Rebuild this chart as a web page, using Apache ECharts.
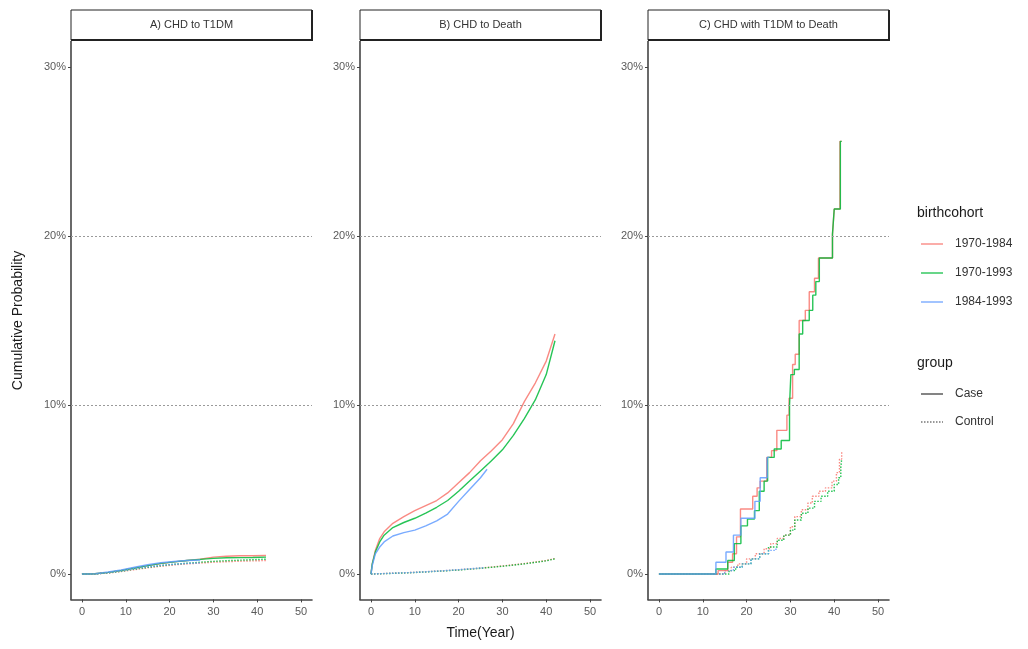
<!DOCTYPE html>
<html>
<head>
<meta charset="utf-8">
<script src="https://cdn.jsdelivr.net/npm/echarts@6/dist/echarts.min.js"></script>
<style>
html,body{margin:0;padding:0;background:#fff;}
#chart{width:1028px;height:649px;}
</style>
</head>
<body>
<div id="chart"></div>
<script>
// ---------- DATA ----------
var panelTitles = ['A) CHD to T1DM', 'B) CHD to Death', 'C) CHD with T1DM to Death'];
var cohorts = ['1970-1984', '1970-1993', '1984-1993'];
var groups = ['Case', 'Control'];
var xTicks = [0, 10, 20, 30, 40, 50];
var yTicks = [0, 10, 20, 30];

// Panel A: CHD to T1DM (time in years, cumulative probability in %)
var aTimeFull = [0, 3, 6, 9, 12, 15, 18, 21, 24, 27, 30, 33, 36, 39, 42];
var aTimeShort = [0, 3, 6, 9, 12, 15, 18, 21, 24, 27];
var aCase1970_1984 = [0, 0.02, 0.1, 0.22, 0.36, 0.5, 0.62, 0.72, 0.8, 0.88, 1.0, 1.05, 1.08, 1.08, 1.1];
var aCase1970_1993 = [0, 0.02, 0.1, 0.22, 0.36, 0.5, 0.63, 0.72, 0.8, 0.87, 0.93, 0.96, 0.97, 0.98, 1.0];
var aCase1984_1993 = [0, 0.02, 0.12, 0.25, 0.4, 0.55, 0.67, 0.74, 0.8, 0.83];
var aCtrl1970_1984 = [0, 0.01, 0.06, 0.15, 0.26, 0.37, 0.46, 0.54, 0.6, 0.65, 0.7, 0.73, 0.76, 0.78, 0.8];
var aCtrl1970_1993 = [0, 0.01, 0.07, 0.17, 0.29, 0.4, 0.5, 0.58, 0.64, 0.7, 0.75, 0.79, 0.82, 0.85, 0.88];
var aCtrl1984_1993 = [0, 0.01, 0.08, 0.19, 0.32, 0.43, 0.52, 0.58, 0.63, 0.66];

// Panel B: CHD to Death
var bTimeFull = [0, 0.3, 1, 2, 3, 5, 7.5, 10, 12.5, 15, 17.5, 20, 22.5, 25, 27.5, 30, 32.5, 35, 37.5, 40, 42];
var bTimeShort = [0, 0.3, 1, 2, 3, 5, 7.5, 10, 12.5, 15, 17.5, 20, 22.5, 25, 26.5];
var bCase1970_1984 = [0, 0.6, 1.4, 2.1, 2.5, 3.0, 3.4, 3.75, 4.05, 4.35, 4.8, 5.4, 6.0, 6.7, 7.3, 7.95, 8.9, 10.2, 11.3, 12.6, 14.2];
var bCase1970_1993 = [0, 0.6, 1.3, 1.9, 2.3, 2.75, 3.05, 3.3, 3.6, 3.95, 4.35, 4.9, 5.5, 6.1, 6.7, 7.35, 8.2, 9.2, 10.3, 11.8, 13.8];
var bCase1984_1993 = [0, 0.5, 1.2, 1.6, 1.9, 2.25, 2.45, 2.6, 2.85, 3.15, 3.55, 4.3, 5.0, 5.7, 6.2];
var bCtrlTimeFull = [0, 5, 10, 15, 20, 25, 30, 35, 40, 42];
var bCtrlTimeShort = [0, 5, 10, 15, 20, 26];
var bCtrl1970_1984 = [0, 0.05, 0.1, 0.17, 0.25, 0.35, 0.48, 0.62, 0.8, 0.92];
var bCtrl1970_1993 = [0, 0.04, 0.09, 0.16, 0.24, 0.34, 0.46, 0.6, 0.78, 0.9];
var bCtrl1984_1993 = [0, 0.05, 0.1, 0.17, 0.26, 0.38];

// Panel C: CHD with T1DM to Death (step curves: time, value after the step)
var cCase1970_1984T = [0, 13.5, 15.7, 16.8, 17.7, 18.6, 21.4, 22.4, 23.1, 24.6, 25.7, 26.9, 29.2, 29.7, 30.5, 31.1, 32.0, 33.4, 34.3, 35.5, 36.4, 39.6, 40.0, 41.3, 41.7];
var cCase1970_1984V = [0, 0.2, 0.7, 1.2, 2.2, 3.85, 4.6, 5.1, 5.5, 6.9, 7.3, 8.5, 9.4, 10.4, 12.4, 13.0, 15.0, 15.6, 16.7, 17.5, 18.7, 20.1, 21.6, 25.6, 25.6];
var cCase1970_1993T = [0, 13.0, 15.7, 17.2, 18.7, 20.2, 21.8, 22.9, 24.0, 24.8, 26.3, 27.9, 29.8, 30.1, 30.9, 32.0, 32.8, 34.3, 35.1, 35.8, 36.6, 39.6, 40.0, 41.4, 41.7];
var cCase1970_1993V = [0, 0.3, 0.8, 1.8, 2.85, 3.25, 3.75, 4.9, 5.5, 6.9, 7.4, 7.9, 10.0, 11.8, 12.1, 14.2, 15.0, 15.6, 16.5, 17.3, 18.7, 20.1, 21.6, 25.6, 25.6];
var cCase1984_1993T = [0, 13.0, 15.3, 17.0, 18.7, 21.9, 23.1, 24.7, 25.2];
var cCase1984_1993V = [0, 0.7, 1.3, 2.3, 3.3, 4.3, 5.7, 6.9, 6.9];
var cCtrl1970_1984T = [0, 15, 16.5, 18, 20, 22, 24, 25.5, 27, 28.5, 30, 31, 32.5, 34, 35, 36.5, 38, 39.5, 40.5, 41.2, 41.7];
var cCtrl1970_1984V = [0, 0.2, 0.4, 0.6, 0.9, 1.2, 1.5, 1.8, 2.1, 2.3, 2.8, 3.4, 3.8, 4.2, 4.6, 4.9, 5.1, 5.5, 6.0, 6.8, 7.2];
var cCtrl1970_1993T = [0, 16, 17.5, 19, 21, 23, 25, 27, 28.5, 30, 31, 32.5, 34, 35.5, 37, 38.5, 40, 41, 41.5, 41.7];
var cCtrl1970_1993V = [0, 0.2, 0.4, 0.6, 0.9, 1.2, 1.6, 2.0, 2.3, 2.6, 3.2, 3.6, 3.9, 4.3, 4.6, 4.9, 5.3, 5.7, 6.3, 6.8];
var cCtrl1984_1993T = [0, 15, 17, 19, 21, 23, 25, 26.7];
var cCtrl1984_1993V = [0, 0.2, 0.4, 0.6, 0.9, 1.2, 1.4, 1.6];

// ---------- BUILD ----------
var colors = {'1970-1984': '#F8766D', '1970-1993': '#00BA38', '1984-1993': '#619CFF'};
function zip(t, v) { return t.map(function (x, i) { return [x, v[i]]; }); }

var panels = [
  {left: 71, step: false, lines: [
    ['1970-1984', 'Case', zip(aTimeFull, aCase1970_1984)],
    ['1970-1993', 'Case', zip(aTimeFull, aCase1970_1993)],
    ['1984-1993', 'Case', zip(aTimeShort, aCase1984_1993)],
    ['1970-1984', 'Control', zip(aTimeFull, aCtrl1970_1984)],
    ['1970-1993', 'Control', zip(aTimeFull, aCtrl1970_1993)],
    ['1984-1993', 'Control', zip(aTimeShort, aCtrl1984_1993)]
  ]},
  {left: 360, step: false, lines: [
    ['1970-1984', 'Control', zip(bCtrlTimeFull, bCtrl1970_1984)],
    ['1970-1993', 'Control', zip(bCtrlTimeFull, bCtrl1970_1993)],
    ['1984-1993', 'Control', zip(bCtrlTimeShort, bCtrl1984_1993)],
    ['1970-1984', 'Case', zip(bTimeFull, bCase1970_1984)],
    ['1970-1993', 'Case', zip(bTimeFull, bCase1970_1993)],
    ['1984-1993', 'Case', zip(bTimeShort, bCase1984_1993)]
  ]},
  {left: 648, step: true, lines: [
    ['1970-1984', 'Control', zip(cCtrl1970_1984T, cCtrl1970_1984V)],
    ['1970-1993', 'Control', zip(cCtrl1970_1993T, cCtrl1970_1993V)],
    ['1984-1993', 'Control', zip(cCtrl1984_1993T, cCtrl1984_1993V)],
    ['1970-1984', 'Case', zip(cCase1970_1984T, cCase1970_1984V)],
    ['1970-1993', 'Case', zip(cCase1970_1993T, cCase1970_1993V)],
    ['1984-1993', 'Case', zip(cCase1984_1993T, cCase1984_1993V)]
  ]}
];

var W = 241, TOP = 41.6, H = 557.8;
var grids = [], xAxes = [], yAxes = [], series = [], graphics = [];
var axisColor = '#444444', labelColor = '#5a5a5a';

panels.forEach(function (p, i) {
  grids.push({left: p.left, top: TOP, width: W, height: H, containLabel: false});
  xAxes.push({
    gridIndex: i, type: 'value', min: -2.5, max: 52.5,
    axisLine: {show: true, onZero: false, lineStyle: {color: axisColor, width: 1.6}},
    axisTick: {show: true, customValues: xTicks, length: 3, lineStyle: {color: axisColor}},
    axisLabel: {customValues: xTicks, color: labelColor, fontSize: 11, margin: 7, fontFamily: 'Liberation Sans, Arial'},
    splitLine: {show: false},
    name: i === 1 ? 'Time(Year)' : '', nameLocation: 'middle', nameGap: 27,
    nameTextStyle: {fontSize: 14, color: '#1a1a1a', fontFamily: 'Liberation Sans, Arial'}
  });
  yAxes.push({
    gridIndex: i, type: 'value', min: -1.5, max: 31.5,
    axisLine: {show: true, onZero: false, lineStyle: {color: axisColor, width: 1.6}},
    axisTick: {show: true, customValues: yTicks, length: 3, lineStyle: {color: axisColor}},
    axisLabel: {customValues: yTicks, color: labelColor, fontSize: 11, margin: 5, formatter: '{value}%', fontFamily: 'Liberation Sans, Arial'},
    splitLine: {show: false},
    name: i === 0 ? 'Cumulative Probability' : '', nameLocation: 'middle', nameGap: 46,
    nameTextStyle: {fontSize: 14, color: '#1a1a1a', fontFamily: 'Liberation Sans, Arial'}
  });
  // reference lines at 10% and 20%
  series.push({
    type: 'line', xAxisIndex: i, yAxisIndex: i, data: [], silent: true,
    markLine: {
      silent: true, symbol: 'none', label: {show: false},
      lineStyle: {color: '#9a9a9a', type: [2, 2], width: 1},
      data: [{yAxis: 10}, {yAxis: 20}]
    }
  });
  p.lines.forEach(function (l) {
    series.push({
      type: 'line', name: l[0], xAxisIndex: i, yAxisIndex: i,
      data: l[2], showSymbol: false, symbol: 'none',
      step: p.step ? 'end' : false,
      lineStyle: {color: colors[l[0]], width: 1.4, type: l[1] === 'Case' ? 'solid' : [1.5, 1.5], opacity: 0.85},
      itemStyle: {color: colors[l[0]]},
      animation: false
    });
  });
  // facet strip
  graphics.push({type: 'rect', shape: {x: p.left, y: 10, width: W, height: 30},
    style: {fill: '#ffffff', stroke: '#222', lineWidth: 1}});
  graphics.push({type: 'line', shape: {x1: p.left, y1: 40, x2: p.left + W, y2: 40}, style: {stroke: '#222', lineWidth: 2}});
  graphics.push({type: 'line', shape: {x1: p.left + W, y1: 10, x2: p.left + W, y2: 41}, style: {stroke: '#222', lineWidth: 2}});
  graphics.push({type: 'text', x: p.left + W / 2, y: 25,
    style: {text: panelTitles[i], fill: '#333', fontSize: 11, align: 'center', verticalAlign: 'middle', fontFamily: 'Liberation Sans, Arial'}});
});

// legend (drawn as graphic)
var lgX = 917;
graphics.push({type: 'text', x: lgX, y: 213, style: {text: 'birthcohort', fill: '#1a1a1a', fontSize: 14, verticalAlign: 'middle', fontFamily: 'Liberation Sans, Arial'}});
cohorts.forEach(function (c, k) {
  var y = 244 + k * 29;
  graphics.push({type: 'line', shape: {x1: lgX + 4, y1: y, x2: lgX + 26, y2: y}, style: {stroke: colors[c], lineWidth: 1.4, opacity: 0.85}});
  graphics.push({type: 'text', x: lgX + 38, y: y, style: {text: c, fill: '#333', fontSize: 12, verticalAlign: 'middle', fontFamily: 'Liberation Sans, Arial'}});
});
graphics.push({type: 'text', x: lgX, y: 363, style: {text: 'group', fill: '#1a1a1a', fontSize: 14, verticalAlign: 'middle', fontFamily: 'Liberation Sans, Arial'}});
groups.forEach(function (g, k) {
  var y = 394 + k * 28;
  graphics.push({type: 'line', shape: {x1: lgX + 4, y1: y, x2: lgX + 26, y2: y},
    style: {stroke: '#333', lineWidth: 1.2, lineDash: g === 'Case' ? null : [1.5, 1.5]}});
  graphics.push({type: 'text', x: lgX + 38, y: y, style: {text: g, fill: '#333', fontSize: 12, verticalAlign: 'middle', fontFamily: 'Liberation Sans, Arial'}});
});

var chart = echarts.init(document.getElementById('chart'), null, {renderer: 'canvas'});
chart.setOption({
  backgroundColor: '#ffffff',
  animation: false,
  grid: grids,
  xAxis: xAxes,
  yAxis: yAxes,
  series: series,
  graphic: graphics
});
</script>
</body>
</html>
